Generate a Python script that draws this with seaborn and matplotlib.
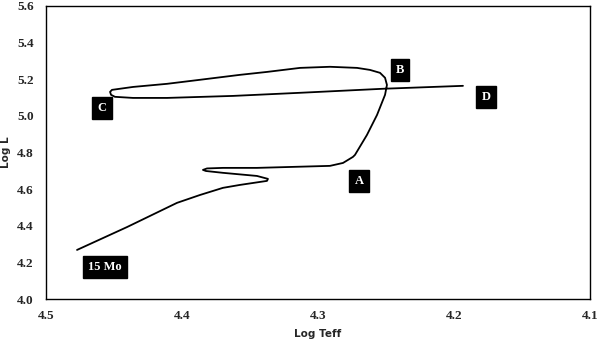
import matplotlib
matplotlib.use("Agg")
import matplotlib.pyplot as plt
import seaborn as sns
import pandas as pd

# evolutionary track of a 15 Mo star
log_teff = [4.4772, 4.4404, 4.4037, 4.3868, 4.3699, 4.3574, 4.3375, 4.3368,
            4.3449, 4.3699, 4.3824, 4.3846, 4.3816, 4.3699, 4.3449, 4.3206,
            4.2912, 4.2816, 4.2743, 4.2728, 4.2640, 4.2566, 4.2507, 4.2493,
            4.2507, 4.2544, 4.2618, 4.2713, 4.2912, 4.3132, 4.3375, 4.3574,
            4.3868, 4.4110, 4.4360, 4.4515, 4.4529, 4.4522, 4.4493, 4.4360,
            4.4110, 4.3625, 4.3132, 4.2522, 4.1934]
log_l = [4.268, 4.393, 4.525, 4.568, 4.607, 4.623, 4.645, 4.656,
         4.672, 4.689, 4.699, 4.705, 4.713, 4.716, 4.716, 4.721,
         4.727, 4.743, 4.776, 4.787, 4.896, 5.005, 5.115, 5.169,
         5.208, 5.235, 5.251, 5.262, 5.268, 5.262, 5.240, 5.224,
         5.197, 5.175, 5.158, 5.142, 5.131, 5.115, 5.104, 5.098,
         5.098, 5.109, 5.126, 5.148, 5.164]

label_text = ["A", "B", "C", "D", "15 Mo"]
label_x = [4.2699, 4.2397, 4.4588, 4.1765, 4.4566]
label_y = [4.645, 5.251, 5.044, 5.104, 4.175]

x_ticks = [4.5, 4.4, 4.3, 4.2, 4.1]
y_ticks = [4.0, 4.2, 4.4, 4.6, 4.8, 5.0, 5.2, 5.4, 5.6]

track = pd.DataFrame({"teff": log_teff, "lum": log_l})

sns.set_style("white")
fig = plt.figure(figsize=(6, 3.46), dpi=100)
ax = fig.add_axes([0.0767, 0.1358, 0.9066, 0.8469])

sns.lineplot(data=track, x="teff", y="lum", sort=False, estimator=None,
             color="black", linewidth=1.3, ax=ax)

for t, x, y in zip(label_text, label_x, label_y):
    ax.text(x, y, t, color="white", fontsize=9, family="Liberation Serif",
            fontweight="bold", ha="center", va="center",
            bbox=dict(boxstyle="square,pad=0.42", facecolor="black", edgecolor="black"))

ax.set_xlim(4.5, 4.1)
ax.set_ylim(4.0, 5.6)
ax.set_xticks(x_ticks)
ax.set_yticks(y_ticks)
ax.set_xticklabels([f"{v:.1f}" for v in x_ticks], family="Liberation Serif",
                   fontweight="bold", fontsize=9.5)
ax.set_yticklabels([f"{v:.1f}" for v in y_ticks], family="Liberation Serif",
                   fontweight="bold", fontsize=9.5)
ax.tick_params(axis="x", direction="in", length=3, pad=8, color="#555555")
ax.tick_params(axis="y", direction="inout", length=4, pad=7, color="#888888")

ax.set_xlabel("Log Teff", fontsize=7.5, fontweight="bold", labelpad=5)
ax.set_ylabel("Log L", fontsize=7.5, fontweight="bold", labelpad=4)

for s in ax.spines.values():
    s.set_color("black")
    s.set_linewidth(1.0)

fig.savefig("out.png", dpi=100)
